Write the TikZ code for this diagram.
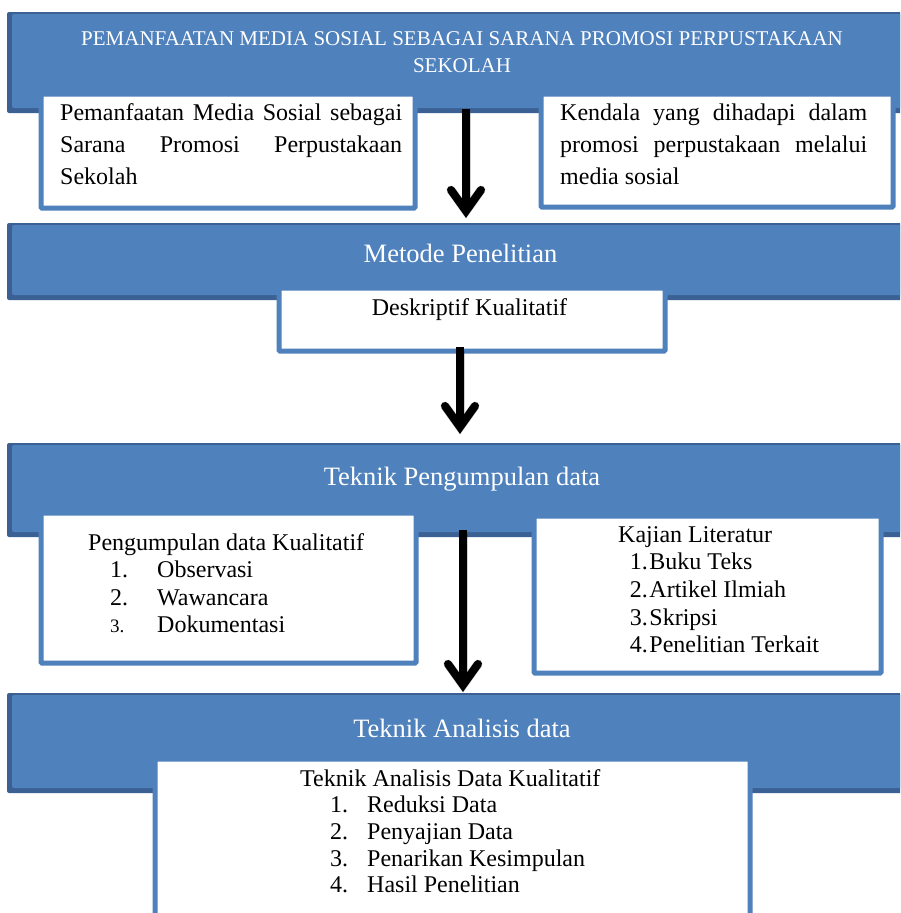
\documentclass[tikz,border=0pt]{standalone}
\usepackage{fontspec}
\setmainfont{Liberation Serif}
\definecolor{bfill}{HTML}{4F81BD}
\definecolor{bdark}{HTML}{3B6094}
\newcommand\clines[2]{\vtop{\baselineskip=#1\relax\halign{\hfil##\hfil\cr #2\crcr}}}
\newcommand\llines[2]{\vtop{\baselineskip=#1\relax\halign{##\hfil\cr #2\crcr}}}
\newcommand\numbox[2]{\hbox to #1{#2\hfil}}
\tikzset{
  banner/.style={fill=bdark, rounded corners=2pt, inner sep=0pt, outer sep=0pt,
    anchor=north west, minimum width=905pt,
    path picture={\fill[bfill] ([xshift=5pt,yshift=-2pt]path picture bounding box.north west)
      rectangle ([yshift=5pt]path picture bounding box.south east);}},
  wbox/.style={draw=bfill, line width=5pt, fill=white, rounded corners=1pt,
    inner sep=0pt, anchor=north west},
  title/.style={font=\fontsize{26.5}{30}\selectfont, text=white, inner sep=0pt, anchor=base},
  toptitle/.style={font=\fontsize{21}{26}\selectfont, text=white, inner sep=0pt, anchor=base},
  body/.style={font=\fontsize{24}{30}\selectfont, text=black, inner sep=0pt, anchor=base west},
  shaftline/.style={line width=8pt, black},
  headline/.style={line width=8pt, black, line cap=round, line join=miter},
  shadowline/.style={line width=9pt, black, opacity=0.18, shift={(2pt,-2pt)}}
}
\newcommand\flowarrow[2]{%
  \draw[shadowline] ([yshift=-4pt]#1) -- ([yshift=7pt]#2);
  \draw[shadowline, line cap=round] ([xshift=-15pt,yshift=28pt]#2) -- ([yshift=7pt]#2) -- ([xshift=15pt,yshift=28pt]#2);
  \draw[shaftline] (#1) -- ([yshift=7pt]#2);
  \draw[headline] ([xshift=-15pt,yshift=28pt]#2) -- ([yshift=7pt]#2) -- ([xshift=15pt,yshift=28pt]#2);}
\begin{document}
\begin{tikzpicture}[x=1pt,y=-1pt]
\useasboundingbox (0,0) rectangle (900,913);
\clip (0,0) rectangle (900,913);
\fill[white] (0,0) rectangle (900,913);

% ---- section 1
\node[banner, minimum height=101pt] (b1) at (7,12) {};
\node[toptitle] (t1) at (462,45) {\clines{27.7pt}{PEMANFAATAN MEDIA SOSIAL SEBAGAI SARANA PROMOSI PERPUSTAKAAN\cr SEKOLAH}};
\node[wbox, minimum width=374pt, minimum height=114pt] (l1) at (38.5,91.5) {};
\node[body] (l1t) at (60,120.7) {\llines{32pt}{\makebox[342pt][s]{Pemanfaatan Media Sosial sebagai}\cr
  \makebox[342pt][s]{Sarana Promosi Perpustakaan}\cr Sekolah}};
\node[wbox, minimum width=352pt, minimum height=113pt] (r1) at (538.5,91.5) {};
\node[body] (r1t) at (560,120.7) {\llines{32pt}{\makebox[307pt][s]{Kendala yang dihadapi dalam}\cr
  \makebox[307pt][s]{promosi perpustakaan melalui}\cr media sosial}};
\coordinate (a1s) at (466,109);
\coordinate (a1e) at (466,218);
\flowarrow{a1s}{a1e}

% ---- section 2
\node[banner, minimum height=77pt] (b2) at (7,223) {};
\node[title] (t2) at (460.5,262.3) {Metode Penelitian};
\node[wbox, minimum width=386pt, minimum height=63pt] (d2) at (276.5,285.5) {};
\node[body, anchor=base] (d2t) at (469.5,315.5) {Deskriptif Kualitatif};
\coordinate (a2s) at (460,347);
\coordinate (a2e) at (460,434);
\flowarrow{a2s}{a2e}

% ---- section 3
\node[banner, minimum height=94pt] (b3) at (7,443) {};
\node[title] (t3) at (462,485) {Teknik Pengumpulan data};
\node[wbox, minimum width=375pt, minimum height=150pt] (l3) at (38.5,510.5) {};
\node[body] (l3t) at (88,550) {\llines{27.6pt}{Pengumpulan data Kualitatif\cr
  \hskip22pt\numbox{47pt}{1.}Observasi\cr
  \hskip22pt\numbox{47pt}{2.}Wawancara\cr
  \hskip22pt\numbox{47pt}{\fontsize{19}{24}\selectfont 3.}Dokumentasi}};
\node[wbox, minimum width=347pt, minimum height=157pt] (r3) at (531.5,513.5) {};
\node[body] (r3t) at (618,542.3) {\llines{27.6pt}{Kajian Literatur\cr
  \hskip11.7pt\numbox{19.6pt}{1.}Buku Teks\cr
  \hskip11.7pt\numbox{19.6pt}{2.}Artikel Ilmiah\cr
  \hskip11.7pt\numbox{19.6pt}{3.}Skripsi\cr
  \hskip11.7pt\numbox{19.6pt}{4.}Penelitian Terkait}};
\coordinate (a3s) at (463,530);
\coordinate (a3e) at (463,692);
\flowarrow{a3s}{a3e}

% ---- section 4
\node[banner, minimum height=100pt] (b4) at (7,693) {};
\node[title] (t4) at (462,737) {Teknik Analisis data};
\node[wbox, minimum width=595pt, minimum height=180pt] (a4) at (152.5,756.5) {};
\node[body] (a4t) at (300,786.3) {\llines{26.6pt}{Teknik Analisis Data Kualitatif\cr
  \hskip30pt\numbox{37pt}{1.}Reduksi Data\cr
  \hskip30pt\numbox{37pt}{2.}Penyajian Data\cr
  \hskip30pt\numbox{37pt}{3.}Penarikan Kesimpulan\cr
  \hskip30pt\numbox{37pt}{4.}Hasil Penelitian}};
\end{tikzpicture}
\end{document}
